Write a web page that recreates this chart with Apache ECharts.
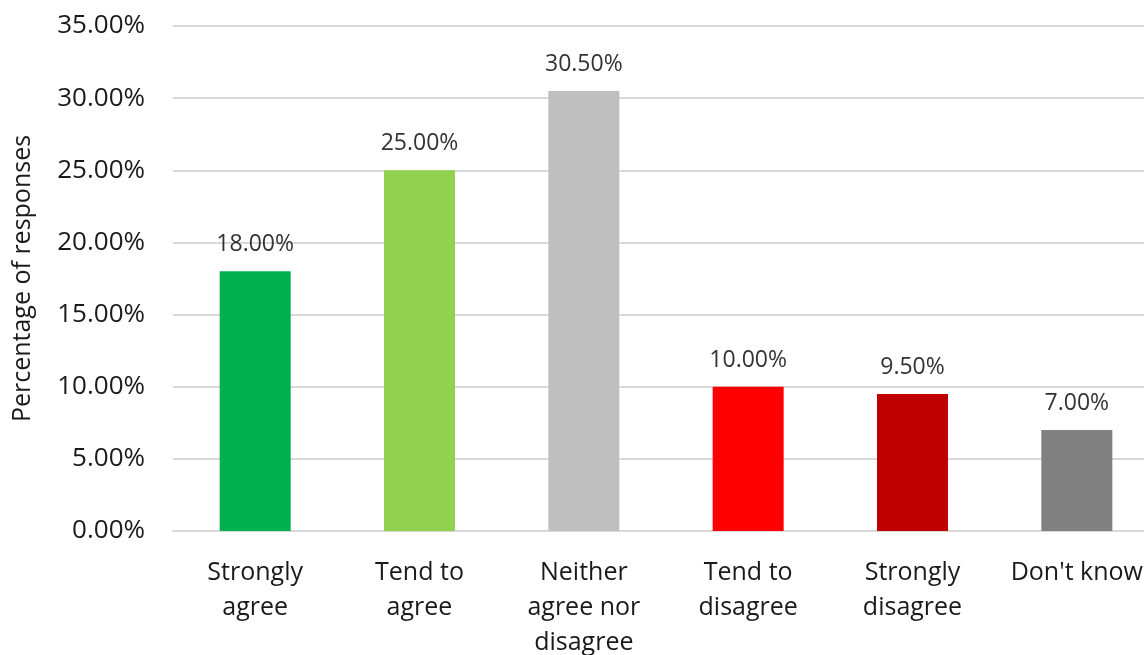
<!DOCTYPE html>
<html>
<head>
<meta charset="utf-8">
<script src="https://cdn.jsdelivr.net/npm/echarts@6/dist/echarts.min.js"></script>
<style>
html,body{margin:0;padding:0;background:#fff;}
#chart{width:1144px;height:655px;}
</style>
</head>
<body>
<div id="chart"></div>
<script>
const categories = ["Strongly\nagree", "Tend to\nagree", "Neither\nagree nor\ndisagree", "Tend to\ndisagree", "Strongly\ndisagree", "Don't know"];
const values = [18.0, 25.0, 30.5, 10.0, 9.5, 7.0];
const barColors = ["#00B050", "#92D050", "#BFBFBF", "#FF0000", "#C00000", "#808080"];
const yTicks = { min: 0, max: 35, interval: 5 };
const yAxisTitle = "Percentage of responses";

const FONT = "'Open Sans', 'Noto Sans', sans-serif";
const chart = echarts.init(document.getElementById('chart'), null, { renderer: 'canvas' });
chart.setOption({
  animation: false,
  backgroundColor: '#ffffff',
  grid: { left: 173, top: 26, bottom: 124, width: 986, containLabel: false, outerBoundsMode: 'none' },
  xAxis: {
    type: 'category',
    data: categories,
    axisLine: { show: true, lineStyle: { color: '#D9D9D9', width: 2 } },
    axisTick: { show: false },
    axisLabel: { interval: 0, color: '#1a1a1a', fontFamily: FONT, fontSize: 25, lineHeight: 35, margin: 24 }
  },
  yAxis: {
    type: 'value',
    min: yTicks.min, max: yTicks.max, interval: yTicks.interval,
    name: yAxisTitle,
    nameLocation: 'middle',
    nameGap: 138,
    nameRotate: 90,
    nameTextStyle: { color: '#1a1a1a', fontFamily: FONT, fontSize: 25 },
    axisLine: { show: false },
    axisTick: { show: false },
    splitLine: { lineStyle: { color: '#D9D9D9', width: 2 } },
    axisLabel: { color: '#1a1a1a', fontFamily: FONT, fontSize: 26, margin: 28,
      formatter: v => v.toFixed(2) + '%' }
  },
  series: [{
    type: 'bar',
    data: values.map((v, i) => ({ value: v, itemStyle: { color: barColors[i] } })),
    barWidth: 71,
    label: { show: true, position: 'top', distance: 15, color: '#333', fontFamily: FONT, fontSize: 23,
      formatter: p => p.value.toFixed(2) + '%' }
  }]
});
</script>
</body>
</html>
